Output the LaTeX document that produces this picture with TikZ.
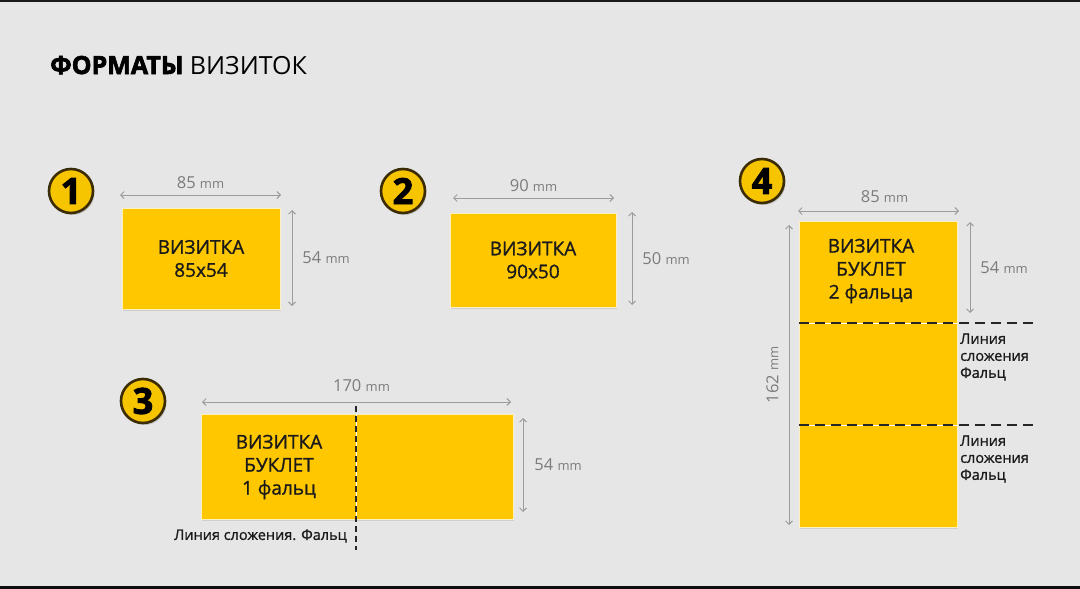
\documentclass[tikz,border=0pt]{standalone}
\usepackage{fontspec}
\setmainfont{Open Sans}
\newfontfamily\semifont{Open Sans}[FakeBold=1.1]
\newfontfamily\heavyfont{Open Sans}[BoldFeatures={FakeBold=2.5}]
\usetikzlibrary{arrows.meta,shadows}
\definecolor{bgGrey}{HTML}{E6E6E6}
\definecolor{cardYellow}{HTML}{FFC700}
\definecolor{badgeYellow}{HTML}{F7C400}
\definecolor{badgeRing}{HTML}{3B2C05}
\definecolor{dimGrey}{HTML}{9C9C9C}
\definecolor{labelGrey}{HTML}{7C7C7C}
\definecolor{inkBlack}{HTML}{1A1A1A}

\begin{document}
\begin{tikzpicture}[
    x=1pt,y=-1pt,
    every node/.style={font=\fontsize{16}{19}\selectfont},
    card/.style={draw=white!75!cardYellow, line width=0.9pt, fill=cardYellow, inner sep=0pt,
        align=center, text=inkBlack,
        drop shadow={opacity=0.22, shadow xshift=1pt, shadow yshift=-2pt},
        font=\semifont\fontsize{19}{23}\selectfont},
    cardtext/.style={align=center, text=inkBlack, inner sep=0pt, font=\semifont\fontsize{19}{23}\selectfont},
    badge/.style={circle, minimum size=44pt, inner sep=0pt, fill=badgeYellow, draw=badgeRing,
        line width=2.6pt, text=black, font=\heavyfont\fontsize{36}{36}\selectfont\bfseries,
        drop shadow={opacity=0.35, shadow xshift=1.5pt, shadow yshift=-2pt}},
    dim/.style={draw=dimGrey, line width=0.9pt,
        {Straight Barb[length=3.5pt,width=7pt]}-{Straight Barb[length=3.5pt,width=7pt]}},
    dimlabel/.style={text=labelGrey, inner sep=0pt, font=\fontsize{16.5}{19}\selectfont},
    foldline/.style={draw=black!85, line width=1.4pt},
    foldnote/.style={align=left, inner sep=0pt, text=inkBlack, font=\semifont\fontsize{14.5}{17}\selectfont}
]
    % background and frame bars
    \fill[bgGrey] (0,0) rectangle (1080,589);
    \fill[black!90] (0,0) rectangle (1080,1.5);
    \fill[black!95] (0,586) rectangle (1080,589);

    \node[anchor=base west, inner sep=0pt, text=black, font=\fontsize{25}{29}\selectfont] (title) at (50,74)
        {{\heavyfont\bfseries ФОРМАТЫ} ВИЗИТОК};

    % badges
    \node[badge] (b1) at (71,191) {1};
    \node[badge] (b2) at (403,191) {2};
    \node[badge] (b3) at (143,401) {3};
    \node[badge] (b4) at (762,181) {4};

    % cards
    \node[card, minimum width=158pt, minimum height=101pt] (card1) at (201,258.5) {ВИЗИТКА\\85x54};
    \node[card, minimum width=166pt, minimum height=94pt] (card2) at (533,260) {ВИЗИТКА\\90x50};
    \node[card, minimum width=312pt, minimum height=105pt] (card3) at (357,466.5) {};
    \node[card, minimum width=158pt, minimum height=306pt] (card4) at (878,374) {};
    \node[cardtext] (txt3) at (279,467) {ВИЗИТКА\\БУКЛЕТ\\1 фальц};
    \node[cardtext] (txt4) at (871,271) {ВИЗИТКА\\БУКЛЕТ\\2 фальца};

    % dimension ends
    \coordinate (w1a) at (120,195);  \coordinate (w1b) at (281,195);
    \coordinate (h1a) at (292,210);  \coordinate (h1b) at (292,306);
    \coordinate (w2a) at (453,198);  \coordinate (w2b) at (614,198);
    \coordinate (h2a) at (632,212);  \coordinate (h2b) at (632,305);
    \coordinate (w3a) at (202,402);  \coordinate (w3b) at (511,402);
    \coordinate (h3a) at (523,418);  \coordinate (h3b) at (523,512);
    \coordinate (w4a) at (798,211);  \coordinate (w4b) at (959,211);
    \coordinate (h4a) at (970,222);  \coordinate (h4b) at (970,313);
    \coordinate (l4a) at (789,225);  \coordinate (l4b) at (789,525);

    \draw[dim] (w1a) -- node[dimlabel, above=6pt] {85 {\fontsize{13}{15}\selectfont mm}} (w1b);
    \draw[dim] (h1a) -- node[dimlabel, right=10pt] {54 {\fontsize{13}{15}\selectfont mm}} (h1b);
    \draw[dim] (w2a) -- node[dimlabel, above=6pt] {90 {\fontsize{13}{15}\selectfont mm}} (w2b);
    \draw[dim] (h2a) -- node[dimlabel, right=10pt] {50 {\fontsize{13}{15}\selectfont mm}} (h2b);
    \draw[dim] (w3a) -- node[dimlabel, above=10pt, xshift=5pt] {170 {\fontsize{13}{15}\selectfont mm}} (w3b);
    \draw[dim] (h3a) -- node[dimlabel, right=11pt] {54 {\fontsize{13}{15}\selectfont mm}} (h3b);
    \draw[dim] (w4a) -- node[dimlabel, above=8pt, xshift=6pt] {85 {\fontsize{13}{15}\selectfont mm}} (w4b);
    \draw[dim] (h4a) -- node[dimlabel, right=10pt] {54 {\fontsize{13}{15}\selectfont mm}} (h4b);
    \draw[dim] (l4a) -- node[dimlabel, rotate=90, above=10pt] {162 {\fontsize{13}{15}\selectfont mm}} (l4b);

    % fold lines
    \coordinate (f3a) at (356,406);  \coordinate (f3b) at (356,550);
    \coordinate (f4a) at (799,323);  \coordinate (f4b) at (1033,323);
    \coordinate (f5a) at (799,425);  \coordinate (f5b) at (1033,425);
    \draw[white, line width=1pt] (card3.north -| f3a) -- (card3.south -| f3a);
    \draw[white, line width=1pt] (f4a) -- (card4.east |- f4a);
    \draw[white, line width=1pt] (f5a) -- (card4.east |- f5a);
    \draw[foldline, dash pattern=on 6pt off 4pt] (f3a) -- (f3b);
    \draw[foldline, dash pattern=on 10pt off 6pt] (f4a) -- (f4b);
    \draw[foldline, dash pattern=on 10pt off 6pt] (f5a) -- (f5b);

    \node[foldnote, anchor=east] (n3) at (347,536) {Линия сложения. Фальц};
    \node[foldnote, anchor=west] (n4) at (960,357) {Линия\\сложения\\Фальц};
    \node[foldnote, anchor=west] (n5) at (960,459) {Линия\\сложения\\Фальц};
\end{tikzpicture}
\end{document}
